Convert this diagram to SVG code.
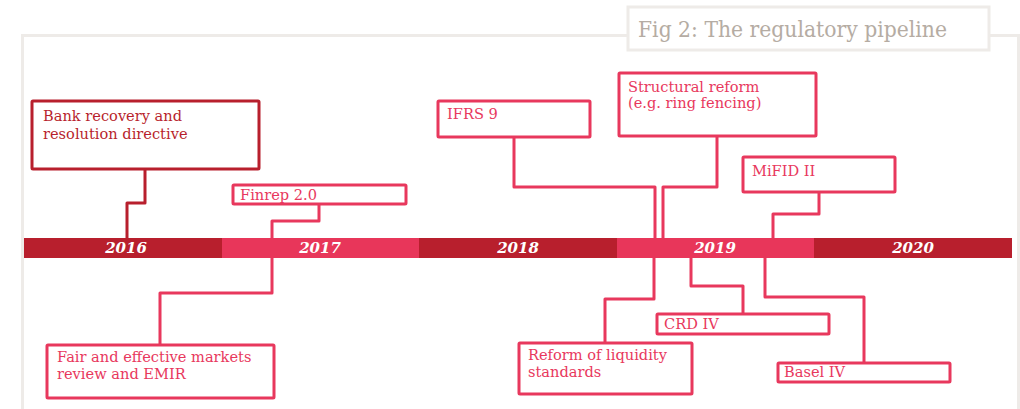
<svg xmlns="http://www.w3.org/2000/svg" width="1020" height="409" viewBox="0 0 1020 409">
<style>
.frame{fill:none;stroke:#eeebe8;stroke-width:3}
.bd{fill:#fff;stroke:#b81f2d;stroke-width:3}
.bp{fill:#fff;stroke:#e8385d;stroke-width:3}
.cd{fill:none;stroke:#b81f2d;stroke-width:3;stroke-linejoin:round}
.cp{fill:none;stroke:#e8385d;stroke-width:3;stroke-linejoin:round}
.td{font-family:"DejaVu Serif","Liberation Serif",serif;font-size:14.6px;fill:#b81f2d}
.tp{font-family:"DejaVu Serif","Liberation Serif",serif;font-size:14.6px;fill:#e8385d}
.yr{font-family:"DejaVu Serif","Liberation Serif",serif;font-size:15px;font-weight:bold;font-style:italic;fill:#fff;text-anchor:middle}
.title{font-family:"DejaVu Serif","Liberation Serif",serif;font-size:22px;fill:#b5aca3}
</style>
<rect width="1020" height="409" fill="#fff"/>
<g id="frame">
<path class="frame" d="M22.5,409 V35.5 H628 M989,35.5 H1018.5 V409"/>
<rect class="frame" x="628" y="7" width="361" height="43"/>
<text class="title" x="638" y="37" textLength="309" lengthAdjust="spacingAndGlyphs">Fig 2: The regulatory pipeline</text>
</g>
<g id="connectors">
<path class="cd" d="M145,169 V203 H127 V238"/>
<path class="cp" d="M319,204 V221 H272 V238"/>
<path class="cp" d="M272,258 V293 H160 V344"/>
<path class="cp" d="M514,137 V187 H655 V238"/>
<path class="cp" d="M717,137 V187 H663 V238"/>
<path class="cp" d="M819,192 V214 H773 V238"/>
<path class="cp" d="M654,258 V299 H605 V342"/>
<path class="cp" d="M691,258 V286 H743 V313"/>
<path class="cp" d="M765,258 V297 H864 V362"/>
</g>
<g id="timeline">
<rect x="24" y="238" width="198" height="20" fill="#b81f2d"/>
<rect x="222" y="238" width="197" height="20" fill="#e8365a"/>
<rect x="419" y="238" width="198" height="20" fill="#b81f2d"/>
<rect x="617" y="238" width="197" height="20" fill="#e8365a"/>
<rect x="814" y="238" width="198" height="20" fill="#b81f2d"/>
<text class="yr" x="126" y="253">2016</text>
<text class="yr" x="320" y="253">2017</text>
<text class="yr" x="518" y="253">2018</text>
<text class="yr" x="715" y="253">2019</text>
<text class="yr" x="913" y="253">2020</text>
</g>
<g id="n-brrd">
<rect class="bd" x="32" y="101" width="227" height="68" rx="1"/>
<text class="td" x="43" y="121">Bank recovery and</text>
<text class="td" x="43" y="139">resolution directive</text>
</g>
<g id="n-finrep">
<rect class="bp" x="233" y="185" width="173" height="19" rx="1"/>
<text class="tp" x="240" y="199.5">Finrep 2.0</text>
</g>
<g id="n-fair">
<rect class="bp" x="47" y="345" width="227" height="53" rx="1"/>
<text class="tp" x="57" y="362">Fair and effective markets</text>
<text class="tp" x="57" y="379">review and EMIR</text>
</g>
<g id="n-ifrs">
<rect class="bp" x="438" y="101" width="152" height="36" rx="1"/>
<text class="tp" x="447" y="119">IFRS 9</text>
</g>
<g id="n-struct">
<rect class="bp" x="619" y="73" width="197" height="63" rx="1"/>
<text class="tp" x="628" y="92">Structural reform</text>
<text class="tp" x="628" y="108">(e.g. ring fencing)</text>
</g>
<g id="n-mifid">
<rect class="bp" x="743" y="157" width="152" height="35" rx="1"/>
<text class="tp" x="752" y="176">MiFID II</text>
</g>
<g id="n-liquidity">
<rect class="bp" x="519" y="343" width="173" height="51" rx="1"/>
<text class="tp" x="528" y="360">Reform of liquidity</text>
<text class="tp" x="528" y="377">standards</text>
</g>
<g id="n-crd">
<rect class="bp" x="657" y="314" width="172" height="20" rx="1"/>
<text class="tp" x="664" y="329">CRD IV</text>
</g>
<g id="n-basel">
<rect class="bp" x="778" y="363" width="172" height="19" rx="1"/>
<text class="tp" x="784" y="377">Basel IV</text>
</g>
</svg>
